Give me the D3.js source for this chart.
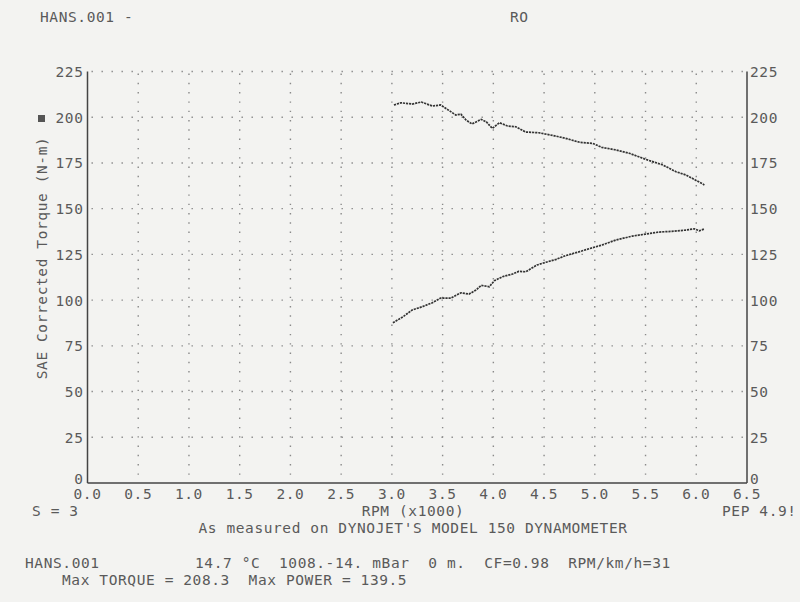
<!DOCTYPE html>
<html>
<head>
<meta charset="utf-8">
<script src="https://cdn.jsdelivr.net/npm/d3@7"></script>
<style>
  html, body { margin: 0; padding: 0; background: #f3f3f1; }
  svg text { font-family: "DejaVu Sans Mono", "Liberation Mono", monospace; fill: #5a5a5a; white-space: pre; }
</style>
</head>
<body>
<svg id="chart" width="800" height="602"></svg>
<script>
// ---- data ----
const torqueRpm = [3.02, 3.09, 3.20, 3.29, 3.40, 3.48, 3.53, 3.63, 3.68, 3.73, 3.79, 3.88, 3.93, 3.99, 4.06, 4.14, 4.22, 4.32, 4.45, 4.58, 4.71, 4.85, 4.98, 5.07, 5.21, 5.34, 5.50, 5.67, 5.80, 5.90, 5.99, 6.08];
const torqueVal = [206.7, 207.9, 207.2, 208.3, 206.1, 206.7, 204.9, 201.2, 201.7, 198.5, 196.3, 198.8, 197.5, 193.9, 197.0, 195.2, 194.8, 191.9, 191.5, 190.1, 188.5, 186.3, 185.7, 183.5, 182.1, 180.3, 177.0, 173.9, 170.2, 168.4, 165.7, 163.0];
const powerRpm = [3.01, 3.11, 3.20, 3.30, 3.40, 3.48, 3.58, 3.68, 3.76, 3.83, 3.88, 3.96, 4.01, 4.09, 4.19, 4.25, 4.32, 4.43, 4.52, 4.62, 4.71, 4.85, 4.98, 5.07, 5.21, 5.37, 5.50, 5.63, 5.76, 5.90, 5.98, 6.03, 6.08];
const powerVal = [87.6, 90.9, 94.6, 96.4, 98.6, 101.1, 101.1, 104.0, 103.3, 105.5, 108.1, 107.3, 110.6, 112.8, 114.3, 115.7, 115.5, 119.2, 120.7, 122.3, 124.3, 126.5, 128.7, 130.1, 132.9, 135.0, 136.1, 137.2, 137.6, 138.3, 139.0, 137.9, 138.9];
const xTicks = [0.0, 0.5, 1.0, 1.5, 2.0, 2.5, 3.0, 3.5, 4.0, 4.5, 5.0, 5.5, 6.0, 6.5];
const yTicks = [0, 25, 50, 75, 100, 125, 150, 175, 200, 225];

const svg = d3.select("#chart");
const x = d3.scaleLinear().domain([0, 6.5]).range([87.5, 747]);
const y = d3.scaleLinear().domain([0, 225]).range([483, 71.5]);

// grid (dotted)
const g = svg.append("g");
g.selectAll("line.h").data(yTicks.filter(d => d > 0)).join("line")
  .attr("x1", x(0) + 4).attr("x2", x(6.5) - 2)
  .attr("y1", d => y(d)).attr("y2", d => y(d))
  .attr("stroke", "#8a8a8a").attr("stroke-width", 1.4)
  .attr("stroke-dasharray", "1.4,8.6");
g.selectAll("line.v").data(xTicks.filter(d => d > 0 && d < 6.5)).join("line")
  .attr("x1", d => x(d)).attr("x2", d => x(d))
  .attr("y1", y(225) + 2).attr("y2", y(0) - 4)
  .attr("stroke", "#8a8a8a").attr("stroke-width", 1.4)
  .attr("stroke-dasharray", "1.4,7.9");

// axes frame
const frame = svg.append("g").attr("stroke", "#444").attr("stroke-width", 1.5).attr("fill", "none");
frame.append("line").attr("x1", x(0)).attr("x2", x(0)).attr("y1", y(225)).attr("y2", y(0));
frame.append("line").attr("x1", x(6.5)).attr("x2", x(6.5)).attr("y1", y(225)).attr("y2", y(0));
frame.append("line").attr("x1", x(0)).attr("x2", x(6.5)).attr("y1", y(0)).attr("y2", y(0));

// tick labels
const fs = "14.5px";
const ls = "0.6px";
const yLab = d => d === 0 ? y(d) + 1 : y(d) + 5.5;
svg.append("g").selectAll("text").data(yTicks).join("text")
  .attr("x", x(0) - 4).attr("y", yLab)
  .attr("text-anchor", "end").style("font-size", fs).style("letter-spacing", ls)
  .text(d => d);
svg.append("g").selectAll("text").data(yTicks).join("text")
  .attr("x", x(6.5) + 3).attr("y", yLab)
  .attr("text-anchor", "start").style("font-size", fs).style("letter-spacing", ls)
  .text(d => d);
svg.append("g").selectAll("text").data(xTicks).join("text")
  .attr("x", d => x(d)).attr("y", y(0) + 16)
  .attr("text-anchor", "middle").style("font-size", fs).style("letter-spacing", ls)
  .text(d => d.toFixed(1));

// curves
const line = d3.line().x(d => x(d[0])).y(d => y(d[1])).curve(d3.curveLinear);
const torque = torqueRpm.map((r, i) => [r, torqueVal[i]]);
const power = powerRpm.map((r, i) => [r, powerVal[i]]);
[torque, power].forEach(s => {
  svg.append("path").datum(s).attr("d", line)
    .attr("fill", "none").attr("stroke", "#333").attr("stroke-width", 1.7)
    .attr("stroke-dasharray", "2.2,0.9");
});

// texts
const T = (tx, ty, s, anchor) => svg.append("text").attr("x", tx).attr("y", ty)
  .attr("text-anchor", anchor || "start").style("font-size", fs).style("letter-spacing", ls).text(s);
T(40, 22, "HANS.001 -");
T(510, 22, "RO");
T(32, 516, "S = 3");
T(413, 516, "RPM (x1000)", "middle");
T(722, 516, "PEP 4.9!");
T(413, 533, "As measured on DYNOJET'S MODEL 150 DYNAMOMETER", "middle");
T(25, 568, "HANS.001");
T(195, 568, "14.7 °C  1008.-14. mBar  0 m.  CF=0.98  RPM/km/h=31");
T(62, 585, "Max TORQUE = 208.3  Max POWER = 139.5");

svg.append("text").attr("transform", "translate(47,258) rotate(-90)")
  .attr("text-anchor", "middle").style("font-size", fs).style("letter-spacing", ls)
  .text("SAE Corrected Torque (N-m)");
svg.append("rect").attr("x", 38).attr("y", 115).attr("width", 7).attr("height", 7)
  .attr("fill", "#555");
</script>
</body>
</html>
